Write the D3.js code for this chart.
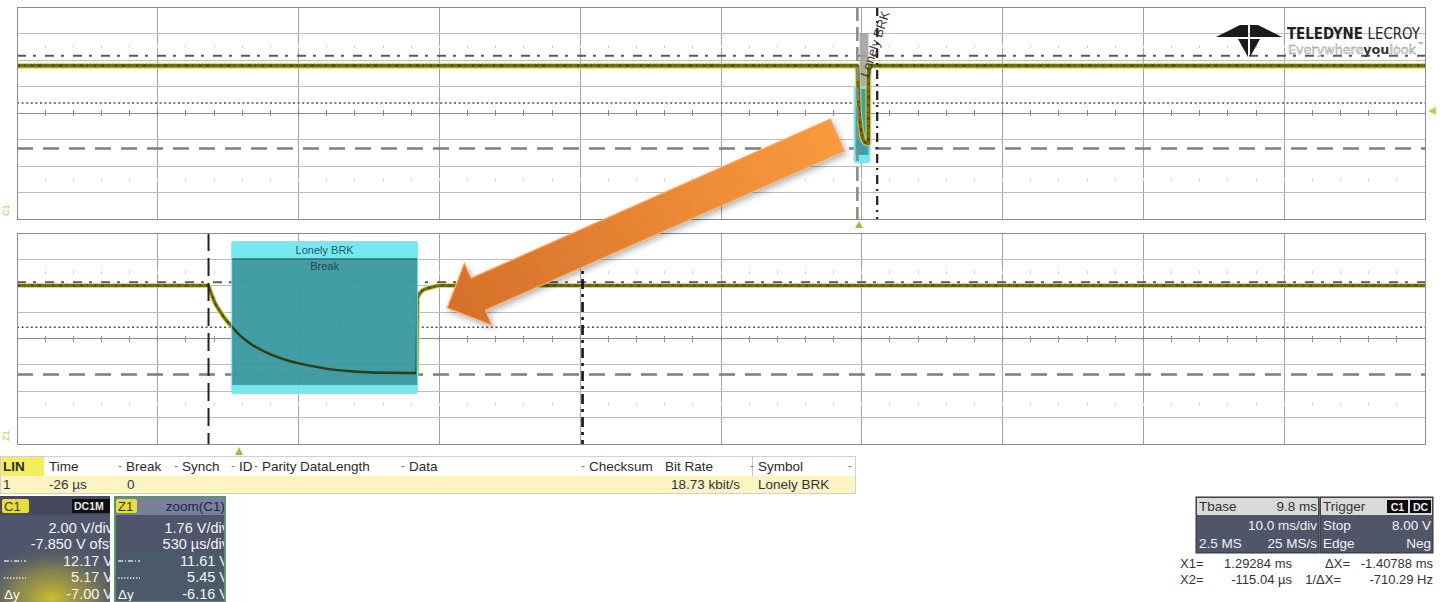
<!DOCTYPE html>
<html><head><meta charset="utf-8">
<script src="https://cdn.jsdelivr.net/npm/d3@7"></script>
<style>
html,body{margin:0;padding:0;background:#fff;overflow:hidden;}
svg{display:block;font-family:"Liberation Sans",Arial,sans-serif;}
</style></head><body>
<svg id="c" width="1445" height="602"></svg>
<script>
// ---------------- DATA ----------------
// C1 acquisition (10 ms/div, 2 V/div, offset -7.85 V)
const topTimeDomain = [-59.8, 40.2];          // ms
const topVoltDomain = [-0.15, 15.85];         // V
const topTime = [-59.8, -0.117, -0.026, 0.15, 0.4, 0.668, 0.672, 0.76, 40.2];
const topVolt = [11.42, 11.42, 8.62, 6.58, 5.66, 5.55, 10.6, 11.42, 11.42];
// Z1 = zoom(C1) (530 us/div, 1.76 V/div)
const zoomTimeDomain = [-0.836, 4.464];       // ms
const zoomVoltDomain = [0.81, 14.89];         // V
const zoomTime = [-0.836, -0.117, -0.105, -0.09, -0.075, -0.06, -0.045, -0.026, -0.005, 0.02, 0.05, 0.08, 0.11, 0.15, 0.19, 0.23, 0.27, 0.32, 0.37, 0.42, 0.48, 0.56, 0.668, 0.672, 0.69, 0.72, 0.76, 4.464];
const zoomVolt = [11.38, 11.38, 10.85, 10.2, 9.75, 9.35, 9.0, 8.62, 8.2, 7.8, 7.42, 7.12, 6.86, 6.58, 6.35, 6.17, 6.02, 5.86, 5.74, 5.66, 5.6, 5.56, 5.55, 10.6, 11.05, 11.25, 11.38, 11.38];
// cursors
const topCursorVolts = [12.17, 8.6, 5.17];    // dash-dot, dotted, dashed
const zoomCursorVolts = [11.61, 8.6, 5.45];
const cursorTimes = [-0.11504, 1.29284];       // X2, X1 (ms)
const triggerTime = 0;
const triggerLevel = 8.00;
// decode annotation
const breakTimes = [-0.026, 0.670];
const breakLabels = ["Lonely BRK", "Break"];
// callout arrow: tail in C1 coords (ms,V), tip in Z1 coords (ms,V)
const arrowTail = [-1.53, 6.19];
const arrowTip = [0.783, 9.89];
// decode table
const tableHeaders = ["LIN", "Time", "Break", "Synch", "ID", "Parity", "DataLength", "Data", "Checksum", "Bit Rate", "Symbol"];
const tableRow = ["1", "-26 µs", "0", "", "", "", "", "", "", "18.73 kbit/s", "Lonely BRK"];
// readouts
const c1Rows = ["2.00 V/div", "-7.850 V ofst", "12.17 V", "5.17 V", "-7.00 V"];
const z1Rows = ["1.76 V/div", "530 µs/div", "11.61 V", "5.45 V", "-6.16 V"];
const tbaseRows = [["Tbase", "9.8 ms"], ["", "10.0 ms/div"], ["2.5 MS", "25 MS/s"]];
const trigRows = [["Trigger", ""], ["Stop", "8.00 V"], ["Edge", "Neg"]];
const readoutRows = [["X1=", "1.29284 ms", "ΔX=", "-1.40788 ms"], ["X2=", "-115.04 µs", "1/ΔX=", "-710.29 Hz"]];

// ---------------- LAYOUT ----------------
const svg = d3.select("#c");
const defs = svg.append("defs");

const topX = d3.scaleLinear().domain(topTimeDomain).range([17, 1425]);
const topY = d3.scaleLinear().domain(topVoltDomain).range([219, 7]);
const zoomX = d3.scaleLinear().domain(zoomTimeDomain).range([17, 1425]);
const zoomY = d3.scaleLinear().domain(zoomVoltDomain).range([444, 233]);

const panels = [
  {id: "top", x: topX, y: topY, xDiv: 10, yDiv: 2, time: topTime, volt: topVolt, cur: topCursorVolts, label: "C1"},
  {id: "zoom", x: zoomX, y: zoomY, xDiv: 0.53, yDiv: 1.76, time: zoomTime, volt: zoomVolt, cur: zoomCursorVolts, label: "Z1"}
];

panels.forEach(p => {
  const [x0, x1] = p.x.range();
  const [y1, y0] = p.y.range();
  defs.append("clipPath").attr("id", "clip-" + p.id)
    .append("rect").attr("x", x0).attr("y", y0).attr("width", x1 - x0).attr("height", y1 - y0);
  const g = svg.append("g");
  p.g = g;
  g.append("rect").attr("x", x0).attr("y", y0).attr("width", x1 - x0).attr("height", y1 - y0).attr("fill", "#fff");
  const xd = p.x.domain(), yd = p.y.domain();
  const xs = d3.range(1, 10).map(i => xd[0] + i * p.xDiv);
  const ys = d3.range(1, 8).map(j => yd[0] + j * p.yDiv);
  const grid = g.append("g").attr("shape-rendering", "crispEdges");
  grid.selectAll(null).data(xs).join("line")
    .attr("x1", d => p.x(d)).attr("x2", d => p.x(d)).attr("y1", y0).attr("y2", y1)
    .attr("stroke", "#a4a4a4").attr("stroke-width", 1);
  grid.selectAll(null).data(ys).join("line")
    .attr("x1", x0).attr("x2", x1).attr("y1", d => p.y(d)).attr("y2", d => p.y(d))
    .attr("stroke", d => Math.abs(d - (yd[0] + 4 * p.yDiv)) < 1e-6 ? "#8c8c8c" : "#bdbdbd").attr("stroke-width", 1);
  const minor = d3.range(1, 50).map(i => xd[0] + i * p.xDiv / 5);
  const yc = p.y(yd[0] + 4 * p.yDiv);
  grid.selectAll(null).data(minor).join("line")
    .attr("x1", d => p.x(d)).attr("x2", d => p.x(d)).attr("y1", yc - 3).attr("y2", yc + 3)
    .attr("stroke", "#8c8c8c");
  [1.5, 6.5].forEach(k => {
    const yy = p.y(yd[0] + k * p.yDiv);
    grid.selectAll(null).data(minor).join("line")
      .attr("x1", d => p.x(d)).attr("x2", d => p.x(d)).attr("y1", yy - 1.5).attr("y2", yy + 1.5)
      .attr("stroke", "#d2d2d2");
  });
  const styles = [
    {c: "#5a5a5a", w: 2, da: "9,7,3,9"},
    {c: "#505050", w: 1.6, da: "2,2.6"},
    {c: "#7e7e7e", w: 2.6, da: "16,10"}
  ];
  g.selectAll(null).data(p.cur).join("line")
    .attr("x1", x0).attr("x2", x1).attr("y1", d => p.y(d)).attr("y2", d => p.y(d))
    .attr("stroke", (d, i) => styles[i].c).attr("stroke-width", (d, i) => styles[i].w)
    .attr("stroke-dasharray", (d, i) => styles[i].da);
  svg.append("text").attr("transform", `translate(${x0 - 8},${y1 - 3}) rotate(-90)`)
    .attr("font-size", 9).attr("fill", "#c9c24a").text(p.label);
});

function tracePath(p) {
  const pts = p.time.map((t, i) => [t, p.volt[i]]);
  return d3.line().x(d => p.x(d[0])).y(d => p.y(d[1])).curve(d3.curveMonotoneX)(pts);
}
function drawTrace(p, g, outerW, innerW) {
  const d = tracePath(p);
  const tg = g.append("g").attr("clip-path", `url(#clip-${p.id})`);
  tg.append("path").attr("d", d).attr("fill", "none").attr("stroke", "#d6d25a").attr("stroke-width", outerW).attr("stroke-opacity", 0.85).attr("stroke-linejoin", "round");
  tg.append("path").attr("d", d).attr("fill", "none").attr("stroke", "#716f14").attr("stroke-width", innerW).attr("stroke-linejoin", "round");
  tg.append("path").attr("d", d).attr("fill", "none").attr("stroke", "#4a4806").attr("stroke-width", innerW * 0.6).attr("stroke-dasharray", "3,4,1,6,2,5").attr("stroke-linejoin", "round");
}

const P0 = panels[0], P1 = panels[1];
// ---------- TOP PANEL ----------
{
  const g = P0.g;
  const bx0 = topX(breakTimes[0]) - 4, bx1 = topX(breakTimes[1]) + 1;
  g.append("rect").attr("x", bx0 + 5).attr("y", 33).attr("width", bx1 - bx0 - 6).attr("height", 56).attr("fill", "#a2a2a2").attr("opacity", 0.9);
  g.append("rect").attr("x", bx0 - 1).attr("y", 86).attr("width", bx1 - bx0 + 2).attr("height", 77).attr("rx", 3).attr("fill", "#74e6ee");
  g.append("rect").attr("x", bx0 + 1).attr("y", 89).attr("width", bx1 - bx0 - 2).attr("height", 66).attr("fill", "#3a8f96").attr("opacity", 0.85);
}
drawTrace(P0, P0.g, 6, 3.6);
P0.g.append("line").attr("x1", topX(cursorTimes[0])).attr("x2", topX(cursorTimes[0])).attr("y1", 7).attr("y2", 219)
  .attr("stroke", "#8a8a8a").attr("stroke-width", 2.6).attr("stroke-dasharray", "14,6");
P0.g.append("line").attr("x1", topX(cursorTimes[1])).attr("x2", topX(cursorTimes[1])).attr("y1", 7).attr("y2", 219)
  .attr("stroke", "#1e1e1e").attr("stroke-width", 2.2).attr("stroke-dasharray", "9,5,2,5");
P0.g.append("text").attr("transform", `translate(${topX(breakTimes[0]) + 10},78) rotate(-72)`)
  .attr("font-size", 13).attr("fill", "#3a3a3a").text(breakLabels[0]);
svg.append("rect").attr("x", 17).attr("y", 7).attr("width", 1408).attr("height", 212).attr("fill", "none").attr("stroke", "#8c8c8c").attr("shape-rendering", "crispEdges");
const trigCol = "#b8b241";
svg.append("path").attr("d", `M${topX(triggerTime)},${221}l-4,7h8z`).attr("fill", trigCol);
svg.append("path").attr("d", `M${1428},${topY(triggerLevel)}l8,-4v8z`).attr("fill", "#cfc84a");

// ---------- ZOOM PANEL ----------
drawTrace(P1, P1.g, 5, 3);
{
  const g = P1.g;
  const bx0 = zoomX(breakTimes[0]), bx1 = zoomX(breakTimes[1]);
  g.append("rect").attr("x", bx0 - 1).attr("y", 241).attr("width", bx1 - bx0 + 2).attr("height", 153).attr("rx", 3).attr("fill", "#6ae6ef").attr("opacity", 0.92);
  g.append("rect").attr("x", bx0).attr("y", 259).attr("width", bx1 - bx0).attr("height", 126).attr("fill", "#1f6a72").attr("opacity", 0.6);
  g.append("line").attr("x1", bx0).attr("x2", bx1).attr("y1", 259).attr("y2", 259).attr("stroke", "#2d6e74").attr("stroke-width", 1.5);
  g.append("text").attr("x", (bx0 + bx1) / 2).attr("y", 254).attr("text-anchor", "middle").attr("font-size", 11).attr("fill", "#205a66").text(breakLabels[0]);
  g.append("text").attr("x", (bx0 + bx1) / 2).attr("y", 270).attr("text-anchor", "middle").attr("font-size", 11).attr("fill", "#27474c").text(breakLabels[1]);
  // dark trace core seen through the decode overlay
  defs.append("clipPath").attr("id", "clip-box").append("rect").attr("x", bx0).attr("y", 259).attr("width", bx1 - bx0 - 1).attr("height", 126);
  g.append("path").attr("d", tracePath(P1)).attr("clip-path", "url(#clip-box)").attr("fill", "none")
    .attr("stroke", "#2c3f14").attr("stroke-width", 2.4).attr("stroke-linejoin", "round");
}
P1.g.append("line").attr("x1", zoomX(cursorTimes[0])).attr("x2", zoomX(cursorTimes[0])).attr("y1", 233).attr("y2", 444)
  .attr("stroke", "#222").attr("stroke-width", 2).attr("stroke-dasharray", "18,7");
P1.g.append("line").attr("x1", zoomX(cursorTimes[1])).attr("x2", zoomX(cursorTimes[1])).attr("y1", 233).attr("y2", 444)
  .attr("stroke", "#151515").attr("stroke-width", 2.6).attr("stroke-dasharray", "10,5,3,5");
svg.append("rect").attr("x", 17).attr("y", 233).attr("width", 1408).attr("height", 211).attr("fill", "none").attr("stroke", "#8c8c8c").attr("shape-rendering", "crispEdges");
svg.append("path").attr("d", `M${zoomX(triggerTime)},${447}l-4,8h8z`).attr("fill", trigCol);

// ---------- ARROW ----------
{
  const tail = [topX(arrowTail[0]), topY(arrowTail[1])];
  const tip = [zoomX(arrowTip[0]), zoomY(arrowTip[1])];
  const dx = tip[0] - tail[0], dy = tip[1] - tail[1], L = Math.hypot(dx, dy);
  const u = [dx / L, dy / L], n = [-u[1], u[0]];
  const sw = 17.5, hw = 34, hl = 34;
  const base = [tip[0] - u[0] * hl, tip[1] - u[1] * hl];
  const P = (pt, k) => [pt[0] + n[0] * k, pt[1] + n[1] * k];
  const poly = [P(tail, sw), P(base, sw), P(base, hw), tip, P(base, -hw), P(base, -sw), P(tail, -sw)];
  const grad = defs.append("linearGradient").attr("id", "ag").attr("gradientUnits", "userSpaceOnUse")
    .attr("x1", tail[0]).attr("y1", tail[1]).attr("x2", tip[0]).attr("y2", tip[1]);
  grad.append("stop").attr("offset", 0).attr("stop-color", "#fa9a3e");
  grad.append("stop").attr("offset", 1).attr("stop-color", "#d5702a");
  const f = defs.append("filter").attr("id", "sh").attr("x", "-20%").attr("y", "-20%").attr("width", "140%").attr("height", "140%");
  f.append("feDropShadow").attr("dx", 2).attr("dy", 3).attr("stdDeviation", 3).attr("flood-color", "#000").attr("flood-opacity", 0.3);
  svg.append("polygon").attr("points", poly.map(d => d.join(",")).join(" "))
    .attr("fill", "url(#ag)").attr("stroke", "#fbab62").attr("stroke-width", 1.2).attr("stroke-linejoin", "miter").attr("filter", "url(#sh)");
}

// ---------- LOGO ----------
{
  const g = svg.append("g").attr("fill", "#1b1b1b");
  g.append("path").attr("d", "M1216,37 L1240,25 L1247,25 L1245,37 Z");
  g.append("path").attr("d", "M1282,37 L1258,25 L1251,25 L1253,37 Z");
  g.append("path").attr("d", "M1238,39 L1248,39 L1248,57 Z");
  g.append("path").attr("d", "M1260,39 L1250,39 L1250,57 Z");
  g.append("path").attr("d", "M1244,25 L1248,25 L1248,37 L1245,37 Z");
  g.append("path").attr("d", "M1254,25 L1250,25 L1250,37 L1253,37 Z");
  const t = svg.append("text").attr("x", 1287).attr("y", 39).attr("font-size", 15)
    .attr("font-family", "'Liberation Sans Narrow','DejaVu Sans Condensed',Arial,sans-serif")
    .attr("textLength", 133).attr("lengthAdjust", "spacingAndGlyphs").attr("fill", "#222");
  t.append("tspan").attr("font-weight", "bold").text("TELEDYNE ");
  t.append("tspan").text("LECROY");
  const t2 = svg.append("text").attr("x", 1288).attr("y", 54).attr("font-size", 12.5)
    .attr("font-family", "'Liberation Sans Narrow','DejaVu Sans Condensed',Arial,sans-serif")
    .attr("textLength", 128).attr("lengthAdjust", "spacingAndGlyphs");
  t2.append("tspan").attr("fill", "#f4f4f4").attr("stroke", "#8a8a8a").attr("stroke-width", 0.4).text("Everywhere");
  t2.append("tspan").attr("fill", "#333").attr("font-weight", "bold").text("you");
  t2.append("tspan").attr("fill", "#f4f4f4").attr("stroke", "#8a8a8a").attr("stroke-width", 0.4).text("look");
  svg.append("text").attr("x", 1417).attr("y", 46).attr("font-size", 6).attr("fill", "#777").text("™");
}

// ---------- TABLE ----------
{
  const g = svg.append("g").attr("font-size", 13.5);
  g.append("rect").attr("x", 0).attr("y", 456).attr("width", 855).attr("height", 20).attr("fill", "#fff");
  g.append("rect").attr("x", 0).attr("y", 456).attr("width", 44).attr("height", 20).attr("fill", "#f3ee5a");
  g.append("rect").attr("x", 0).attr("y", 476).attr("width", 855).attr("height", 18).attr("fill", "#fcf4c3");
  g.append("rect").attr("x", 0.5).attr("y", 456.5).attr("width", 855).attr("height", 37).attr("fill", "none").attr("stroke", "#d0d0d0");
  g.append("line").attr("x1", 752.5).attr("x2", 752.5).attr("y1", 456).attr("y2", 476).attr("stroke", "#c8c8c8");
  const hx = [3, 49, 126, 182, 239, 262, 300, 409, 589, 665, 758];
  const markers = [false, false, true, true, true, true, false, true, true, false, true];
  tableHeaders.forEach((h, i) => {
    g.append("text").attr("x", hx[i]).attr("y", 471).attr("fill", "#2a2a2a")
      .attr("font-weight", i === 0 ? "bold" : "normal").text(h);
    if (markers[i]) g.append("text").attr("x", hx[i] - 8).attr("y", 470).attr("fill", "#777").attr("font-size", 12).text("-");
  });
  g.append("text").attr("x", 848).attr("y", 470).attr("fill", "#777").attr("font-size", 12).text("-");
  tableRow.forEach((v, i) => {
    if (!v) return;
    if (i === 9) g.append("text").attr("x", 740).attr("y", 489).attr("text-anchor", "end").attr("fill", "#333").text(v);
    else g.append("text").attr("x", i === 2 ? 127 : hx[i]).attr("y", 489).attr("fill", "#333").text(v);
  });
}

// ---------- C1 / Z1 DESCRIPTORS ----------
function infoBox(x0, w, id, label, badge, rows, glow) {
  defs.append("clipPath").attr("id", "cb-" + id).append("rect").attr("x", x0).attr("y", 496).attr("width", w).attr("height", 106);
  const g = svg.append("g").attr("clip-path", `url(#cb-${id})`);
  g.append("rect").attr("x", x0).attr("y", 496).attr("width", w).attr("height", 106).attr("fill", "#4f566b");
  if (glow) {
    const rg = defs.append("radialGradient").attr("id", "glow-" + id);
    rg.append("stop").attr("offset", 0).attr("stop-color", "#d6c92a").attr("stop-opacity", 0.9);
    rg.append("stop").attr("offset", 0.5).attr("stop-color", "#aea43a").attr("stop-opacity", 0.55);
    rg.append("stop").attr("offset", 1).attr("stop-color", "#4f566b").attr("stop-opacity", 0);
    g.append("ellipse").attr("cx", x0 + 52).attr("cy", 598).attr("rx", 80).attr("ry", 55).attr("fill", `url(#glow-${id})`);
  } else {
    g.append("rect").attr("x", x0).attr("y", 553).attr("width", w).attr("height", 49).attr("fill", "#4a5a68");
  }
  g.append("rect").attr("x", x0).attr("y", 496).attr("width", w).attr("height", 19).attr("fill", glow ? "#444a5c" : "#79809a");
  g.append("rect").attr("x", x0 + 2).attr("y", 499).attr("width", id === "c1" ? 27 : 21).attr("height", 14).attr("rx", 2).attr("fill", "#e6de3c");
  g.append("text").attr("x", x0 + 4).attr("y", 511).attr("font-size", 13).attr("fill", "#3b3a0c").text(label);
  if (glow) {
    g.append("rect").attr("x", x0 + 72).attr("y", 499).attr("width", 40).attr("height", 14).attr("fill", "#0e0e0e");
    g.append("text").attr("x", x0 + 74).attr("y", 510).attr("font-size", 10.5).attr("font-weight", "bold").attr("fill", "#e8e8e8").text(badge);
  } else {
    g.append("text").attr("x", x0 + w - 1).attr("y", 511).attr("text-anchor", "end").attr("font-size", 13.5).attr("fill", "#1b2550").text(badge);
  }
  const by = [533, 549, 566, 582, 599];
  rows.forEach((r, i) => {
    g.append("text").attr("x", x0 + w + 3).attr("y", by[i]).attr("text-anchor", "end").attr("font-size", 14.5).attr("fill", "#f4f4f4").text(r);
  });
  g.append("line").attr("x1", x0 + 4).attr("x2", x0 + 26).attr("y1", 561).attr("y2", 561).attr("stroke", "#dcdcdc").attr("stroke-width", 1.4).attr("stroke-dasharray", "5,2,1,2");
  g.append("line").attr("x1", x0 + 4).attr("x2", x0 + 26).attr("y1", 578).attr("y2", 578).attr("stroke", "#dcdcdc").attr("stroke-width", 1.4).attr("stroke-dasharray", "1.5,1.5");
  g.append("text").attr("x", x0 + 4).attr("y", 599).attr("font-size", 13.5).attr("fill", "#f4f4f4").text("Δy");
  if (!glow) svg.append("rect").attr("x", x0 + 1).attr("y", 497).attr("width", w - 2).attr("height", 105).attr("fill", "none").attr("stroke", "#5d9462").attr("stroke-width", 2);
}
infoBox(0, 110, "c1", "C1", "DC1M", c1Rows, true);
infoBox(114, 112, "z1", "Z1", "zoom(C1)", z1Rows, false);

// ---------- TIMEBASE / TRIGGER ----------
function smallBox(x0, w, rows, badges) {
  const g = svg.append("g").attr("font-size", 13.5);
  g.append("rect").attr("x", x0).attr("y", 497).attr("width", w).attr("height", 56).attr("fill", "#50566a").attr("stroke", "#333");
  g.append("rect").attr("x", x0 + 1).attr("y", 498).attr("width", w - 2).attr("height", 17).attr("fill", "#dadada");
  const by = [511, 530, 548];
  rows.forEach((r, i) => {
    const c = i === 0 ? "#333" : "#f2f2f2";
    if (r[0]) g.append("text").attr("x", x0 + 3).attr("y", by[i]).attr("fill", c).text(r[0]);
    if (r[1]) g.append("text").attr("x", x0 + w - 2).attr("y", by[i]).attr("text-anchor", "end").attr("fill", c).text(r[1]);
  });
  if (badges) {
    badges.forEach((b, i) => {
      const bx = x0 + w - 46 + i * 23;
      g.append("rect").attr("x", bx).attr("y", 500).attr("width", 21).attr("height", 13).attr("fill", "#0c0c0c");
      g.append("text").attr("x", bx + 10.5).attr("y", 510.5).attr("text-anchor", "middle").attr("font-size", 10.5).attr("font-weight", "bold").attr("fill", "#eee").text(b);
    });
  }
}
smallBox(1196, 123, tbaseRows, null);
smallBox(1320, 113, trigRows, ["C1", "DC"]);

{
  const g = svg.append("g").attr("font-size", 13).attr("fill", "#333");
  const by = [568, 584];
  readoutRows.forEach((r, i) => {
    g.append("text").attr("x", 1180).attr("y", by[i]).text(r[0]);
    g.append("text").attr("x", 1292).attr("y", by[i]).attr("text-anchor", "end").text(r[1]);
    g.append("text").attr("x", i === 0 ? 1350 : 1341).attr("y", by[i]).attr("text-anchor", "end").text(r[2]);
    g.append("text").attr("x", 1433).attr("y", by[i]).attr("text-anchor", "end").text(r[3]);
  });
}
</script>
</body></html>
